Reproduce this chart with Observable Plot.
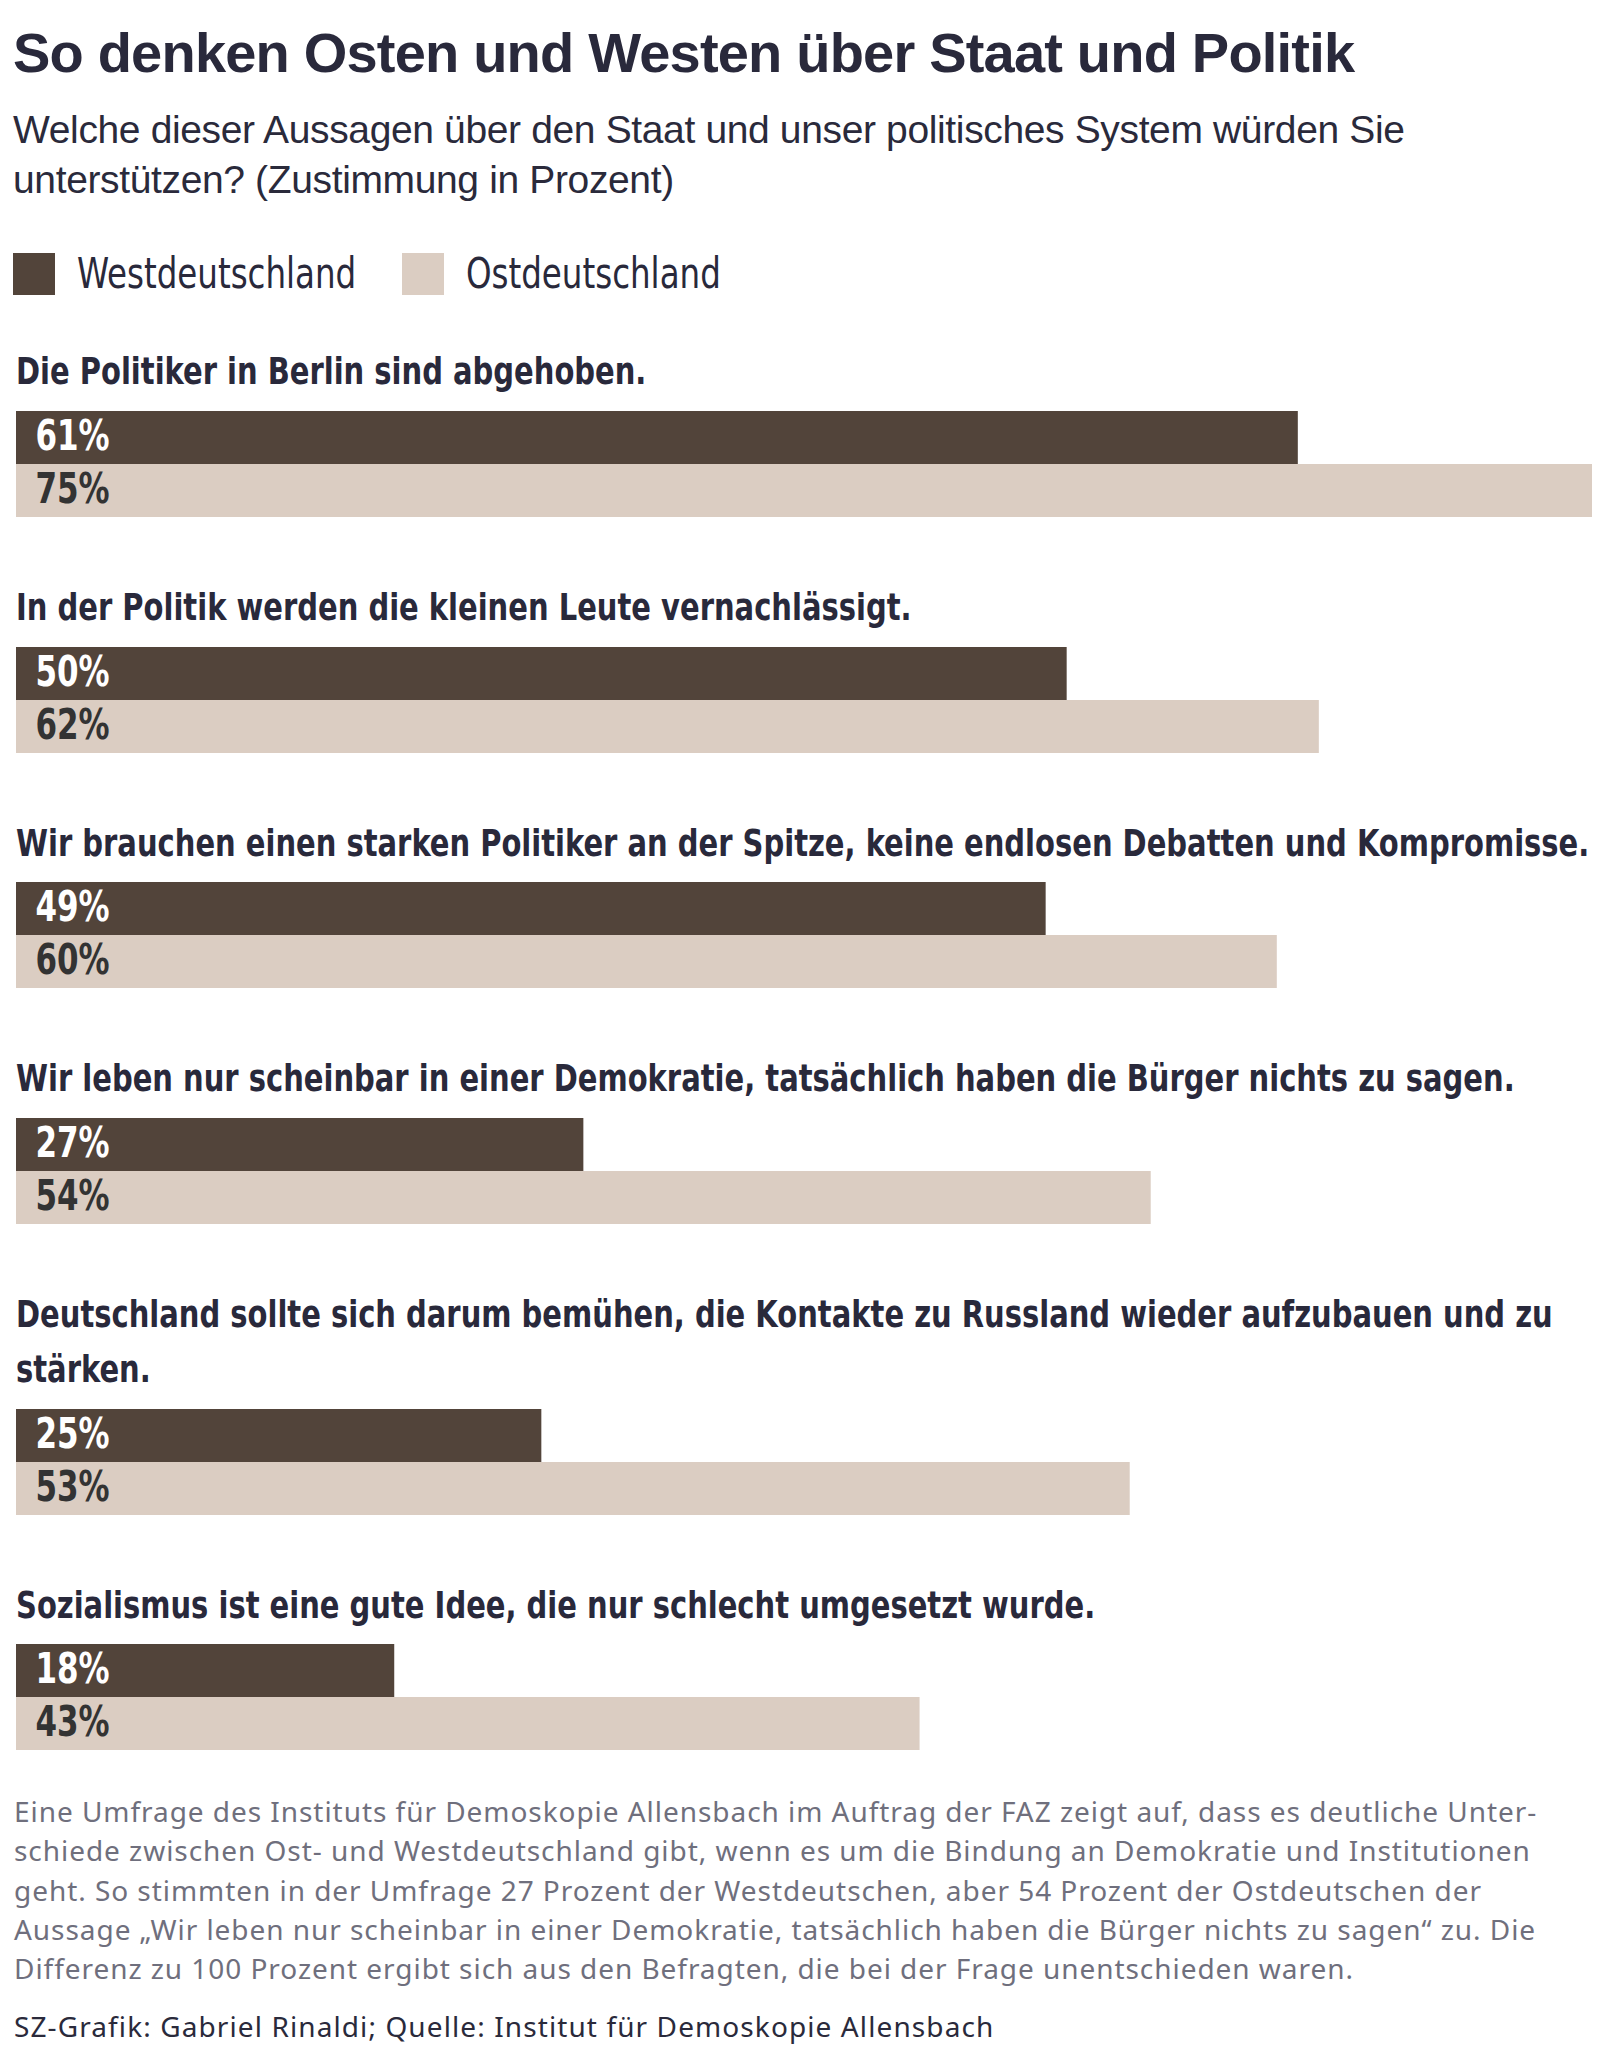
<!DOCTYPE html>
<html lang="de">
<head>
<meta charset="utf-8">
<script src="https://cdn.jsdelivr.net/npm/d3@7"></script>
<script src="https://cdn.jsdelivr.net/npm/@observablehq/plot@0.6"></script>
<style>
  html, body { margin: 0; padding: 0; background: #ffffff; }
  #wrap { width: 1608px; position: relative; }
  .cond { font-family: "DejaVu Sans Condensed", "DejaVu Sans", sans-serif; }
  h1 {
    margin: 0; padding: 20px 0 0 13px;
    font-family: "Liberation Sans", Arial, sans-serif; font-weight: bold;
    font-size: 56px; line-height: 66px; letter-spacing: -0.8px;
    color: #29293b; white-space: nowrap;
  }
  .subtitle {
    margin: 18.5px 0 0 13px;
    font-family: "Liberation Sans", Arial, sans-serif;
    font-size: 39px; line-height: 50px; color: #2a2a3b; white-space: pre;
    letter-spacing: -0.36px;
  }
  .legend { margin: 48.5px 0 0 13px; height: 42px; display: flex; align-items: center; }
  .legend .sw { width: 42px; height: 42px; flex: none; }
  .legend .lab {
    font-size: 42px; line-height: 42px; color: #29293b; white-space: nowrap;
    transform: scaleX(0.86); transform-origin: 0 50%; flex: none;
  }
  .group { margin-top: 63px; }
  .group.first { margin-top: 49.3px; }
  .qlabel {
    margin: 0 0 11.7px 16px; font-weight: bold; font-size: 38px; line-height: 55px;
    color: #29293b; white-space: pre;
    transform: scaleX(0.848); transform-origin: 0 50%;
  }
  .group svg { display: block; }
  .caption {
    margin: 41.5px 0 0 14px;
    font-family: "Noto Sans", "Open Sans", sans-serif;
    font-size: 28px; line-height: 39.3px; color: #6f6f7d; white-space: pre;
    letter-spacing: 0.95px;
  }
  .source {
    margin: 18.5px 0 0 14px;
    font-family: "Noto Sans", "Open Sans", sans-serif;
    font-size: 28px; line-height: 39.3px; color: #2a2a3b; white-space: pre;
    letter-spacing: 1.1px;
  }
</style>
</head>
<body>
<div id="wrap"></div>
<script>
// ---- data ----
const title = "So denken Osten und Westen über Staat und Politik";
const subtitleLines = [
  "Welche dieser Aussagen über den Staat und unser politisches System würden Sie",
  "unterstützen? (Zustimmung in Prozent)"
];
const regions = ["Westdeutschland", "Ostdeutschland"];
const regionColors = ["#52443a", "#dbcdc2"];
const valueLabelColors = ["#ffffff", "#333333"];
const questions = [
  "Die Politiker in Berlin sind abgehoben.",
  "In der Politik werden die kleinen Leute vernachlässigt.",
  "Wir brauchen einen starken Politiker an der Spitze, keine endlosen Debatten und Kompromisse.",
  "Wir leben nur scheinbar in einer Demokratie, tatsächlich haben die Bürger nichts zu sagen.",
  "Deutschland sollte sich darum bemühen, die Kontakte zu Russland wieder aufzubauen und zu\nstärken.",
  "Sozialismus ist eine gute Idee, die nur schlecht umgesetzt wurde."
];
const west = [61, 50, 49, 27, 25, 18];
const east = [75, 62, 60, 54, 53, 43];
const captionLines = [
  "Eine Umfrage des Instituts für Demoskopie Allensbach im Auftrag der FAZ zeigt auf, dass es deutliche Unter-",
  "schiede zwischen Ost- und Westdeutschland gibt, wenn es um die Bindung an Demokratie und Institutionen",
  "geht. So stimmten in der Umfrage 27 Prozent der Westdeutschen, aber 54 Prozent der Ostdeutschen der",
  "Aussage „Wir leben nur scheinbar in einer Demokratie, tatsächlich haben die Bürger nichts zu sagen“ zu. Die",
  "Differenz zu 100 Prozent ergibt sich aus den Befragten, die bei der Frage unentschieden waren."
];
const source = "SZ-Grafik: Gabriel Rinaldi; Quelle: Institut für Demoskopie Allensbach";

// ---- layout ----
const condFont = '"DejaVu Sans Condensed", "DejaVu Sans", sans-serif';
const valueScaleX = 0.82;
const wrap = d3.select("#wrap");
wrap.append("h1").text(title);
wrap.append("div").attr("class", "subtitle").text(subtitleLines.join("\n"));

const legend = wrap.append("div").attr("class", "legend cond");
regions.forEach((r, i) => {
  legend.append("div").attr("class", "sw")
    .style("background", regionColors[i])
    .style("margin-left", i === 0 ? "0px" : "46px");
  legend.append("div").attr("class", "lab").style("margin-left", "22px").text(r);
});
// reclaim the layout space freed by the horizontal condensing
legend.selectAll(".lab").each(function() {
  const w = this.getBoundingClientRect().width;
  this.style.marginRight = (w - this.offsetWidth) + "px";
});

const xMax = d3.max(west.concat(east));

questions.forEach((q, qi) => {
  const g = wrap.append("div").attr("class", "group" + (qi === 0 ? " first" : ""));
  g.append("div").attr("class", "qlabel cond").text(q);
  const rows = [
    {region: regions[0], value: west[qi]},
    {region: regions[1], value: east[qi]}
  ];
  const marks = [];
  regions.forEach((r, i) => {
    const sub = rows.filter(d => d.region === r);
    marks.push(Plot.barX(sub, {x: "value", y: "region", fill: regionColors[i]}));
    marks.push(Plot.text(sub, {
      y: "region", frameAnchor: "left", text: d => d.value + "%",
      textAnchor: "start", dx: 19, dy: -1, fill: valueLabelColors[i],
      fontSize: 42, fontWeight: "bold", fontFamily: condFont
    }));
  });
  const chart = Plot.plot({
    width: 1608, height: 106,
    marginLeft: 16, marginRight: 16, marginTop: 0, marginBottom: 0,
    x: {domain: [0, xMax], axis: null},
    y: {domain: regions, axis: null, padding: 0},
    style: {background: "transparent"},
    marks
  });
  // condense the value labels horizontally (anchored at their start)
  d3.select(chart).selectAll("text").each(function() {
    const t = this.getAttribute("transform") || "";
    this.setAttribute("transform", (t + " scale(" + valueScaleX + ",1)").trim());
  });
  g.node().appendChild(chart);
});

wrap.append("div").attr("class", "caption").text(captionLines.join("\n"));
wrap.append("div").attr("class", "source").text(source);
</script>
</body>
</html>
